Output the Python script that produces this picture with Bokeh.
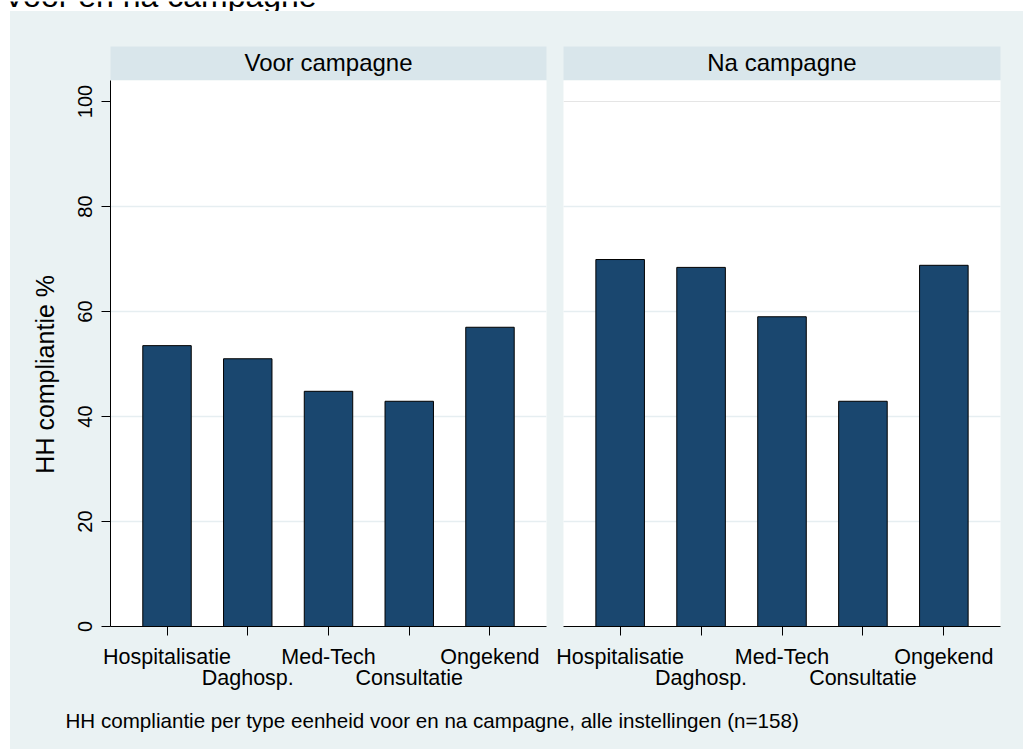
from bokeh.plotting import figure
from bokeh.models import (FactorRange, Range1d, FixedTicker, Grid, CategoricalAxis, Spacer,
                          CustomJSTickFormatter)
from bokeh.layouts import row, column
from bokeh.embed import file_html
from bokeh.resources import INLINE
from bokeh.core.properties import value

# ---------------- data ----------------
units = ["Hospitalisatie", "Daghosp.", "Med-Tech", "Consultatie", "Ongekend"]
voor = [53.5, 51.0, 44.8, 42.9, 57.0]
na = [69.9, 68.4, 59.0, 42.9, 68.8]
panel_titles = ["Voor campagne", "Na campagne"]
y_ticks = [0, 20, 40, 60, 80, 100]
grid_ticks = [20, 40, 60, 80]
title = "Voor en na campagne"
caption = "HH compliantie per type eenheid voor en na campagne, alle instellingen (n=158)"
y_title = "HH compliantie %"

# ---------------- style ----------------
FONT = "Liberation Sans"
BG = "#EAF2F3"
STRIP = "#D9E6EB"
BAR = "#1A476F"
GRID = "#E6EEF1"


def bare(width, height, xr, yr, fill, border, **kw):
    f = figure(width=width, height=height, x_range=xr, y_range=yr,
               toolbar_location=None, output_backend="svg",
               x_axis_location=None, y_axis_location=None,
               background_fill_color=fill, border_fill_color=border,
               outline_line_color=None, **kw)
    f.grid.visible = False
    return f


# title strip (cut off at the top, as in the reference)
tfig = bare(1023, 11, Range1d(0, 1023), Range1d(0, 11), "white", "white", min_border=0)
tfig.text(x=[3], y=[16.6], text=[title], text_font=value(FONT), text_font_size="32px",
          text_baseline="alphabetic", text_align="left", text_color="black")


def header(label, w, bl, br):
    fw = w - bl - br
    h = bare(w, 69, Range1d(0, fw), Range1d(0, 34), STRIP, BG,
             min_border_left=bl, min_border_right=br, min_border_top=35, min_border_bottom=0)
    h.text(x=[fw / 2], y=[17.7], text=[label], text_font=value(FONT), text_font_size="24px",
           text_align="center", text_baseline="alphabetic", text_color="black")
    return h


even_fmt = "return (index % 2 == 0) ? tick : '\u00a0';"
odd_fmt = "return (index % 2 == 1) ? tick : '\u00a0';"


def panel(vals, w, bl, br, with_y):
    p = figure(width=w, height=615,
               x_range=FactorRange(factors=units, range_padding=0.08, range_padding_units="percent"),
               y_range=Range1d(0, 104),
               min_border_left=bl, min_border_right=br, min_border_top=0, min_border_bottom=69,
               y_axis_location="left" if with_y else None,
               toolbar_location=None, output_backend="svg",
               background_fill_color="white", border_fill_color=BG, outline_line_color=None)
    p.vbar(x=units, top=vals, bottom=0, width=0.6, fill_color=BAR, line_color="black", line_width=1)
    p.xgrid.visible = False
    if with_y:
        g = p.ygrid[0]
        g.ticker = FixedTicker(ticks=grid_ticks)
        g.grid_line_color = GRID
        g.grid_line_width = 1.5
        ya = p.yaxis[0]
        ya.ticker = FixedTicker(ticks=y_ticks)
        ya.major_tick_out = 9
        ya.major_tick_in = 0
        ya.minor_tick_line_color = None
        ya.axis_line_color = "black"
        ya.major_tick_line_color = "black"
        ya.major_label_orientation = "vertical"
        ya.major_label_text_font = FONT
        ya.major_label_text_font_size = "20px"
        ya.major_label_text_color = "black"
        ya.major_label_standoff = 10
        ya.axis_label = y_title + "\u00a0" * 6
        ya.axis_label_text_font = FONT
        ya.axis_label_text_font_size = "25px"
        ya.axis_label_text_font_style = "normal"
        ya.axis_label_text_color = "black"
        ya.axis_label_standoff = 16
    else:
        p.add_layout(Grid(dimension=1, ticker=FixedTicker(ticks=grid_ticks),
                          grid_line_color=GRID, grid_line_width=1.5))
    xa = p.xaxis[0]
    xa.formatter = CustomJSTickFormatter(code=even_fmt)
    xa.major_tick_out = 9
    xa.major_tick_in = 0
    xa.axis_line_color = "black"
    xa.major_tick_line_color = "black"
    xa.major_label_text_font = FONT
    xa.major_label_text_font_size = "21.5px"
    xa.major_label_text_color = "black"
    xa.major_label_standoff = 9
    ax2 = CategoricalAxis(formatter=CustomJSTickFormatter(code=odd_fmt),
                          axis_line_color=None, major_tick_line_color=None,
                          major_tick_out=0, major_tick_in=0,
                          major_label_text_font=FONT, major_label_text_font_size="21.5px",
                          major_label_text_color="black", major_label_standoff=-6)
    p.add_layout(ax2, "below")
    return p


h1 = header(panel_titles[0], 543, 100, 7)
h2 = header(panel_titles[1], 470, 10, 23)
p1 = panel(voor, 543, 100, 7, True)
p2 = panel(na, 470, 10, 23, False)

cfig = bare(1013, 54, Range1d(0, 1013), Range1d(0, 54), BG, BG, min_border=0)
cfig.text(x=[55], y=[29.5], text=[caption], text_font=value(FONT), text_font_size="20.6px",
          text_baseline="alphabetic", text_align="left", text_color="black")

hrow = row(h1, h2, styles={"background-color": BG})
prow = row(p1, p2, styles={"background-color": BG})
body = column(hrow, prow, cfig, styles={"background-color": BG})
main = column(tfig, row(Spacer(width=10, height=738), body))

open("out.html", "w").write(file_html(main, INLINE))
